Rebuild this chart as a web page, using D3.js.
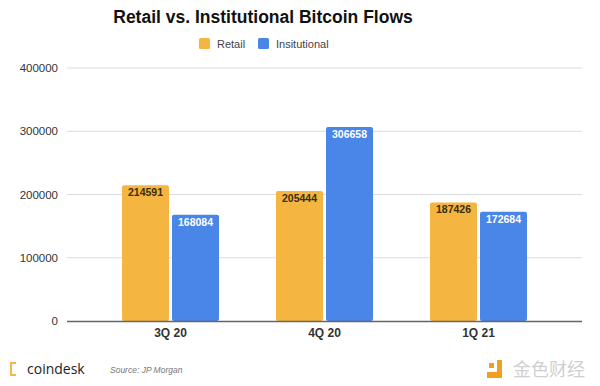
<!DOCTYPE html>
<html>
<head>
<meta charset="utf-8">
<script src="https://cdn.jsdelivr.net/npm/d3@7"></script>
<style>
  body { margin: 0; background: #fff; }
  svg { display: block; font-family: "Liberation Sans", Arial, sans-serif; }
</style>
</head>
<body>
<div id="chart"></div>
<script>
// quarters on the x axis
var quarters = ["3Q 20", "4Q 20", "1Q 21"];
var seriesNames = ["Retail", "Insitutional"];
var retail = [214591, 205444, 187426];
var institutional = [168084, 306658, 172684];
var yTicks = [0, 100000, 200000, 300000, 400000];

var width = 600, height = 386;
var colors = ["#f4b541", "#4a86e8"];
var labelColors = ["#3a2e10", "#ffffff"];

var svg = d3.select("#chart").append("svg")
  .attr("width", width)
  .attr("height", height);

var x0 = d3.scaleBand()
  .domain(quarters)
  .range([67, 582])
  .paddingInner(0.37)
  .paddingOuter(0.357);

var x1 = d3.scaleBand()
  .domain(seriesNames)
  .range([0, x0.bandwidth()])
  .paddingInner(0.06);

var y = d3.scaleLinear()
  .domain([0, 400000])
  .range([321, 68]);

// gridlines
svg.append("g")
  .selectAll("line")
  .data(yTicks.slice(1))
  .enter().append("line")
    .attr("x1", 67).attr("x2", 582)
    .attr("y1", function(d) { return y(d); })
    .attr("y2", function(d) { return y(d); })
    .attr("stroke", "#dcdcdc")
    .attr("stroke-width", 1);

// y axis labels
var yAxis = d3.axisLeft(y).tickValues(yTicks).tickSize(0).tickPadding(9)
  .tickFormat(d3.format("d"));
var yg = svg.append("g")
  .attr("transform", "translate(67,0)")
  .call(yAxis);
yg.select(".domain").remove();
yg.selectAll("text")
  .attr("font-size", 11.5)
  .attr("font-family", "Liberation Sans, Arial, sans-serif")
  .attr("fill", "#333");

// bars
var rows = quarters.map(function(q, i) {
  return { q: q, values: [retail[i], institutional[i]] };
});

var groups = svg.append("g")
  .selectAll("g")
  .data(rows)
  .enter().append("g")
    .attr("transform", function(d) { return "translate(" + x0(d.q) + ",0)"; });

var bars = groups.selectAll("g")
  .data(function(d) {
    return d.values.map(function(v, j) { return { name: seriesNames[j], value: v, j: j }; });
  })
  .enter().append("g");

bars.append("rect")
  .attr("x", function(d) { return x1(d.name); })
  .attr("y", function(d) { return y(d.value); })
  .attr("width", x1.bandwidth())
  .attr("height", function(d) { return y(0) - y(d.value); })
  .attr("rx", 2)
  .attr("fill", function(d) { return colors[d.j]; });

bars.append("text")
  .attr("x", function(d) { return x1(d.name) + x1.bandwidth() / 2; })
  .attr("y", function(d) { return y(d.value) + 11; })
  .attr("text-anchor", "middle")
  .attr("font-size", 10.5)
  .attr("font-weight", "bold")
  .attr("fill", function(d) { return labelColors[d.j]; })
  .text(function(d) { return d.value; });

// baseline and x labels
var xAxis = d3.axisBottom(x0).tickSize(0).tickPadding(7);
var xg = svg.append("g")
  .attr("transform", "translate(0," + y(0) + ")")
  .call(xAxis);
xg.select(".domain")
  .attr("d", "M67,0.5H582")
  .attr("stroke", "#666")
  .attr("stroke-width", 1.3);
xg.selectAll("text")
  .attr("font-size", 12)
  .attr("font-weight", "bold")
  .attr("font-family", "Liberation Sans, Arial, sans-serif")
  .attr("fill", "#333");

// title
svg.append("text")
  .attr("x", 263)
  .attr("y", 23)
  .attr("text-anchor", "middle")
  .attr("font-size", 17.5)
  .attr("font-weight", "bold")
  .attr("fill", "#111")
  .text("Retail vs. Institutional Bitcoin Flows");

// legend
var legend = svg.append("g");
var legendX = [199, 258];
seriesNames.forEach(function(name, i) {
  legend.append("rect")
    .attr("x", legendX[i]).attr("y", 38)
    .attr("width", 11).attr("height", 11)
    .attr("rx", 1.5)
    .attr("fill", colors[i]);
  legend.append("text")
    .attr("x", legendX[i] + 18).attr("y", 48)
    .attr("font-size", 11)
    .attr("fill", "#444")
    .text(name);
});

// footer: coindesk + source
var logo = svg.append("g").attr("transform", "translate(10,362)");
logo.append("path")
  .attr("d", "M0,0H6V2H2V12H6V14H0Z")
  .attr("fill", "#f2b84b");
svg.append("text")
  .attr("x", 27).attr("y", 374)
  .attr("font-size", 14)
  .attr("font-family", "Open Sans, sans-serif")
  .attr("fill", "#222")
  .text("coindesk");
svg.append("text")
  .attr("x", 110).attr("y", 373)
  .attr("font-size", 8.5)
  .attr("font-style", "italic")
  .attr("fill", "#777")
  .text("Source: JP Morgan");

// watermark
var wm = svg.append("g").attr("transform", "translate(487,360)");
wm.append("rect").attr("x", 2).attr("y", 3).attr("width", 5).attr("height", 5).attr("fill", "#f0a020");
wm.append("path").attr("d", "M10,0H15V18H0V12H10Z").attr("fill", "#f0a020");
svg.append("text")
  .attr("x", 513).attr("y", 376)
  .attr("font-size", 18)
  .attr("font-family", "Noto Sans CJK SC, sans-serif")
  .attr("fill", "#d0d0d0")
  .text("金色财经");
</script>
</body>
</html>
